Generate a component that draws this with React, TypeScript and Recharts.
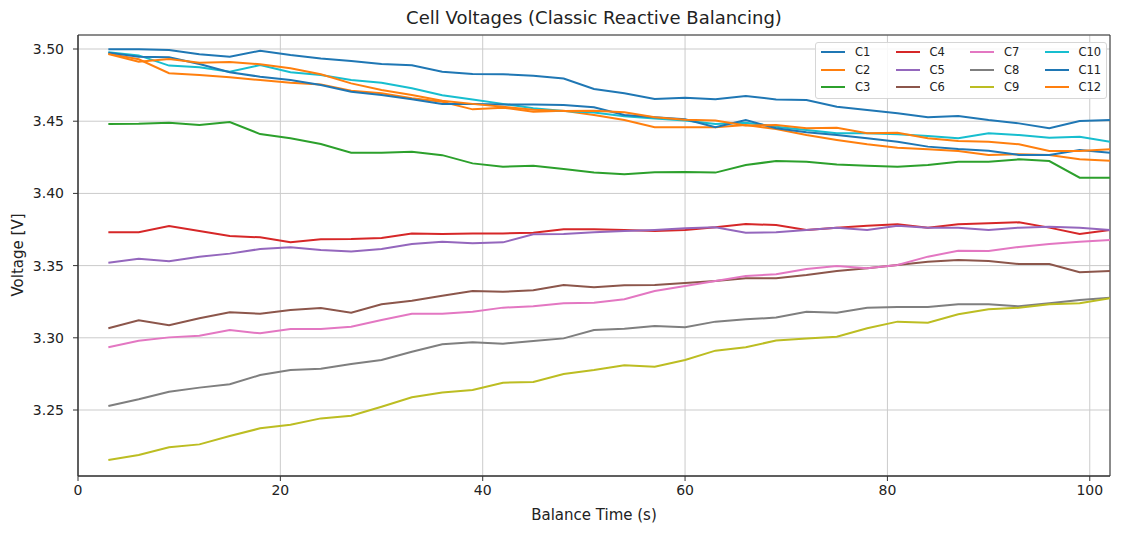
import React from 'react';
import { LineChart, Line, XAxis, YAxis, CartesianGrid, Legend, ReferenceArea } from 'recharts';

const TIME = [3, 6, 9, 12, 15, 18, 21, 24, 27, 30, 33, 36, 39, 42, 45, 48, 51, 54, 57, 60, 63, 66, 69, 72, 75, 78, 81, 84, 87, 90, 93, 96, 99, 102];

const C1 = [3.4998, 3.4998, 3.4993, 3.4963, 3.4947, 3.4988, 3.4958, 3.4935, 3.4917, 3.4896, 3.4887, 3.4843,
  3.4827, 3.4825, 3.4815, 3.4795, 3.4723, 3.4693, 3.4654, 3.4663, 3.4652, 3.4675,
  3.465, 3.4647, 3.46, 3.4578, 3.4555, 3.4527, 3.4536, 3.4508, 3.4485, 3.4451, 3.4501, 3.4508];
const C2 = [3.4968, 3.4929, 3.4832, 3.482, 3.4805, 3.4785, 3.4767, 3.4755, 3.4711, 3.4693, 3.4659, 3.4635,
  3.4582, 3.4594, 3.4566, 3.4573, 3.4543, 3.4508, 3.4458, 3.4458, 3.4458, 3.4474,
  3.4446, 3.4404, 3.437, 3.434, 3.4317, 3.4305, 3.4294, 3.4266, 3.4271, 3.4266, 3.4236, 3.4227];
const C3 = [3.4481, 3.4482, 3.449, 3.4474, 3.4494, 3.4411, 3.4382, 3.4342, 3.4282, 3.4282, 3.4289, 3.4265,
  3.4208, 3.4185, 3.4192, 3.4169, 3.4144, 3.4132, 3.4146, 3.4148, 3.4144, 3.4197,
  3.4224, 3.422, 3.4201, 3.4192, 3.4185, 3.4197, 3.422, 3.422, 3.4236, 3.4224, 3.4109, 3.4109];
const C4 = [3.3731, 3.3731, 3.3774, 3.374, 3.3705, 3.3696, 3.3661, 3.3682, 3.3684, 3.3691, 3.3723, 3.3719,
  3.3723, 3.3723, 3.3728, 3.3751, 3.3751, 3.3747, 3.374, 3.3747, 3.3765, 3.3788,
  3.3781, 3.3747, 3.3763, 3.3776, 3.3786, 3.3763, 3.3786, 3.3793, 3.38, 3.3763, 3.3719, 3.3747];
const C5 = [3.352, 3.3548, 3.353, 3.3562, 3.3583, 3.3615, 3.3627, 3.3608, 3.3597, 3.3615, 3.365, 3.3666,
  3.3654, 3.3661, 3.3717, 3.3719, 3.3731, 3.374, 3.3747, 3.3758, 3.3765, 3.3728,
  3.3731, 3.3747, 3.3763, 3.3747, 3.3776, 3.3763, 3.3763, 3.3747, 3.3763, 3.3769, 3.3763, 3.3747];
const C6 = [3.3066, 3.3121, 3.3087, 3.3135, 3.3177, 3.3167, 3.3192, 3.3206, 3.3174, 3.3232, 3.3257, 3.3292,
  3.3324, 3.3319, 3.3329, 3.3366, 3.335, 3.3364, 3.3366, 3.338, 3.3393, 3.3412,
  3.3412, 3.3435, 3.3463, 3.3481, 3.3504, 3.3527, 3.3539, 3.3532, 3.3511, 3.3511, 3.3454, 3.3463];
const C7 = [3.2934, 3.298, 3.3003, 3.3015, 3.3054, 3.3031, 3.3061, 3.3061, 3.3077, 3.3123, 3.3167, 3.3167,
  3.3181, 3.3209, 3.3218, 3.3239, 3.3243, 3.3267, 3.3324, 3.3359, 3.3393, 3.3428,
  3.344, 3.3476, 3.3497, 3.3481, 3.3504, 3.3562, 3.3603, 3.3601, 3.3629, 3.365, 3.3666, 3.3677];
const C8 = [3.2528, 3.2574, 3.2627, 3.2655, 3.2678, 3.2742, 3.2777, 3.2786, 3.2819, 3.2846, 3.2904, 3.2955,
  3.2969, 3.2959, 3.2978, 3.2996, 3.3054, 3.3063, 3.3082, 3.3073, 3.3112, 3.3128,
  3.314, 3.3181, 3.3174, 3.3208, 3.3213, 3.3213, 3.3232, 3.3232, 3.3218, 3.3239, 3.3262, 3.3278];
const C9 = [3.2154, 3.2188, 3.2242, 3.2262, 3.232, 3.2373, 3.2398, 3.2442, 3.246, 3.2523, 3.2588, 3.2622,
  3.2638, 3.2689, 3.2694, 3.2749, 3.2777, 3.281, 3.28, 3.2846, 3.2911, 3.2934,
  3.2982, 3.2996, 3.3008, 3.3066, 3.3112, 3.3105, 3.3163, 3.3197, 3.3208, 3.3232, 3.3239, 3.3274];
const C10 = [3.4977, 3.4956, 3.4885, 3.4873, 3.4843, 3.4889, 3.4839, 3.482, 3.4785, 3.4767, 3.4728, 3.468,
  3.465, 3.462, 3.459, 3.457, 3.456, 3.4535, 3.4518, 3.4505, 3.448, 3.449,
  3.4462, 3.4439, 3.4416, 3.4416, 3.4409, 3.4398, 3.4382, 3.4416, 3.4404, 3.4386, 3.4393, 3.4358];
const C11 = [3.4975, 3.4947, 3.4943, 3.4896, 3.4839, 3.4808, 3.4785, 3.4751, 3.4704, 3.4681, 3.4652, 3.4619,
  3.462, 3.4615, 3.4615, 3.4612, 3.4596, 3.4543, 3.4527, 3.4513, 3.4458, 3.4508,
  3.4451, 3.4423, 3.4404, 3.4382, 3.4358, 3.4324, 3.4307, 3.4296, 3.4266, 3.4266, 3.43, 3.4282];
const C12 = [3.4965, 3.4912, 3.4931, 3.4905, 3.491, 3.4894, 3.4866, 3.4825, 3.4762, 3.4716, 3.4681, 3.4642,
  3.462, 3.46, 3.458, 3.457, 3.4573, 3.4562, 3.4527, 3.451, 3.4505, 3.447,
  3.4474, 3.4451, 3.4455, 3.4416, 3.442, 3.4382, 3.4363, 3.4358, 3.434, 3.4294, 3.4294, 3.4305];

const CELL_NAMES = ['C1', 'C2', 'C3', 'C4', 'C5', 'C6', 'C7', 'C8', 'C9', 'C10', 'C11', 'C12'];
const CELL_VALUES = [C1, C2, C3, C4, C5, C6, C7, C8, C9, C10, C11, C12];
const COLORS = ['#1f77b4', '#ff7f0e', '#2ca02c', '#d62728', '#9467bd', '#8c564b',
  '#e377c2', '#7f7f7f', '#bcbd22', '#17becf', '#1f77b4', '#ff7f0e'];

const X_TICKS = [0, 20, 40, 60, 80, 100];
const Y_TICKS = [3.25, 3.3, 3.35, 3.4, 3.45, 3.5];
const X_DOMAIN = [0, 102];
const Y_DOMAIN = [3.2043, 3.5097];

const data = TIME.map((t, i) => {
  const row: Record<string, number> = { t };
  CELL_NAMES.forEach((name, k) => {
    row[name] = CELL_VALUES[k][i];
  });
  return row;
});

const FONT = '"DejaVu Sans", sans-serif';

const renderLegend = () => (
  <div
    style={{
      position: 'relative',
      width: 290,
      height: 55,
      background: 'rgba(255,255,255,0.85)',
      border: '1px solid #d6d6d6',
      borderRadius: 3,
      fontFamily: FONT,
      fontSize: 11.5,
      color: '#222',
    }}
  >
    {CELL_NAMES.map((name, i) => {
      const col = Math.floor(i / 3);
      const row = i % 3;
      return (
        <div
          key={name}
          style={{
            position: 'absolute',
            left: 5 + col * 74.5,
            top: 1 + row * 17.5,
            height: 16,
            display: 'flex',
            alignItems: 'center',
          }}
        >
          <svg width={24} height={4} style={{ marginRight: 10 }}>
            <line x1={0} y1={2} x2={24} y2={2} stroke={COLORS[i]} strokeWidth={2} />
          </svg>
          <span>{name}</span>
        </div>
      );
    })}
  </div>
);

export default function App() {
  return (
    <div style={{ position: 'absolute', left: 0, top: 0, width: 1124, height: 535, background: '#fff', fontFamily: FONT }}>
      <div
        style={{
          position: 'absolute',
          left: 78,
          width: 1032,
          top: 7,
          textAlign: 'center',
          fontSize: 18,
          color: '#222',
          lineHeight: '22px',
        }}
      >
        Cell Voltages (Classic Reactive Balancing)
      </div>
      <div
        style={{
          position: 'absolute',
          left: 18,
          top: 255,
          transform: 'translate(-50%, -50%) rotate(-90deg)',
          fontSize: 15,
          color: '#222',
          whiteSpace: 'nowrap',
        }}
      >
        Voltage [V]
      </div>
      <div
        style={{
          position: 'absolute',
          left: 78,
          width: 1032,
          top: 505,
          textAlign: 'center',
          fontSize: 15,
          color: '#222',
          lineHeight: '20px',
        }}
      >
        Balance Time (s)
      </div>
      <LineChart width={1124} height={535} data={data} margin={{ top: 35, right: 14, bottom: 0, left: 28 }}>
        <CartesianGrid stroke="#cbcbcb" strokeWidth={1} />
        <XAxis
          dataKey="t"
          type="number"
          domain={X_DOMAIN}
          ticks={X_TICKS}
          allowDataOverflow
          height={59}
          tickSize={5}
          tickMargin={4}
          stroke="#333"
          tick={{ fontSize: 14, fill: '#222', fontFamily: FONT }}
        />
        <YAxis
          type="number"
          domain={Y_DOMAIN}
          ticks={Y_TICKS}
          allowDataOverflow
          width={50}
          tickSize={5}
          tickMargin={9}
          stroke="#333"
          tickFormatter={(v: number) => v.toFixed(2)}
          tick={{ fontSize: 14, fill: '#222', fontFamily: FONT }}
        />
        <ReferenceArea
          x1={X_DOMAIN[0]}
          x2={X_DOMAIN[1]}
          y1={Y_DOMAIN[0]}
          y2={Y_DOMAIN[1]}
          fill="none"
          stroke="#333"
          strokeWidth={1}
        />
        {CELL_NAMES.map((name, i) => (
          <Line
            key={name}
            type="linear"
            dataKey={name}
            stroke={COLORS[i]}
            strokeWidth={2}
            dot={false}
            isAnimationActive={false}
          />
        ))}
        <Legend
          layout="horizontal"
          verticalAlign="middle"
          align="center"
          content={renderLegend}
          wrapperStyle={{ left: 815, top: 42, width: 292, height: 57 }}
        />
      </LineChart>
    </div>
  );
}
